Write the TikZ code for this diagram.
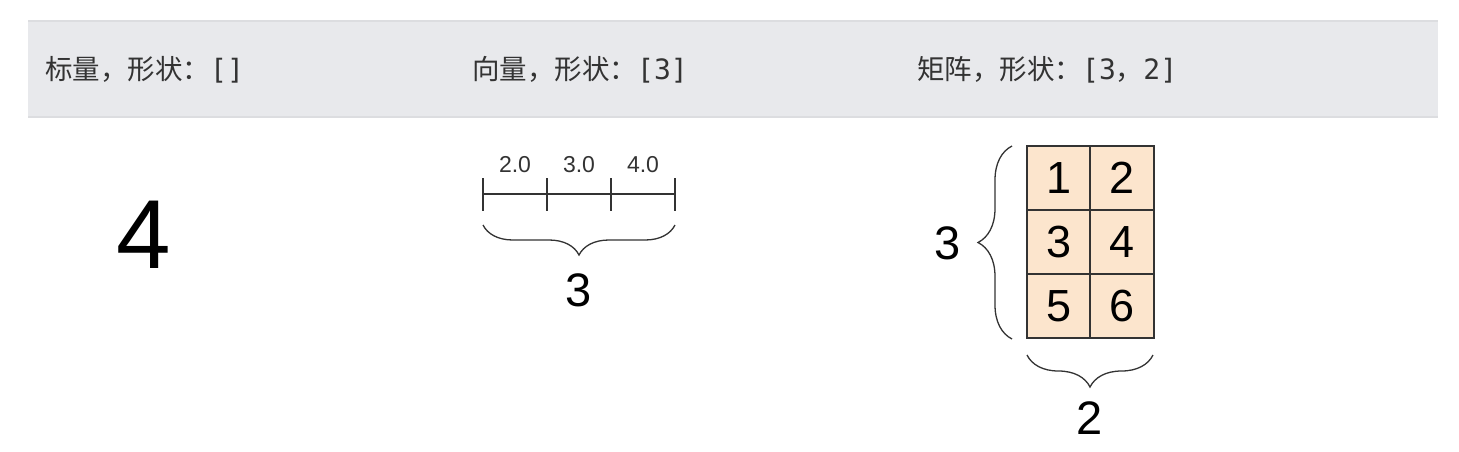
\documentclass[tikz,border=0pt]{standalone}
\usepackage{fontspec}
\setmainfont{Liberation Sans}
\newfontfamily\cjkfont{Noto Sans CJK SC}
\newfontfamily\codefont{DejaVu Sans Mono}
\usepackage{xcolor}
\usetikzlibrary{decorations.pathreplacing}
\definecolor{hdrbg}{HTML}{E8E9EC}
\definecolor{hdrline}{HTML}{DCDDE0}
\definecolor{cellfill}{HTML}{FCE5CD}
\definecolor{ink}{HTML}{333333}

\newcommand{\shp}[1]{{\codefont\fontsize{28}{28}\selectfont #1}}

\tikzset{
  hdr/.style={anchor=west, inner sep=0pt, text=ink, font=\cjkfont\fontsize{27.5}{27.5}\selectfont},
  cell/.style={draw=ink, line width=1.5pt, fill=cellfill, minimum width=64pt, minimum height=64pt, inner sep=0pt, font=\fontsize{45}{45}\selectfont},
  brc/.style={decorate, decoration={brace, amplitude=#1}, draw=ink, line width=1.3pt},
  lbl/.style={inner sep=0pt, font=\fontsize{#1}{#1}\selectfont}
}

\begin{document}
\begin{tikzpicture}[x=1pt,y=-1pt]
\useasboundingbox (0,0) rectangle (1459,451);

% header band
\fill [hdrbg] (28,20) rectangle (1438,117);
\draw [hdrline, line width=2pt] (28,21) -- (1438,21);
\draw [hdrline, line width=2pt] (28,117) -- (1438,117);
\node [hdr] (hscalar) at (45,70) {标量，形状：\shp{[]}};
\node [hdr] (hvector) at (472,70) {向量，形状：\shp{[3]}};
\node [hdr] (hmatrix) at (917,70) {矩阵，形状：\shp{[3}，\shp{2]}};

% scalar
\node [lbl=98] (scalar) at (144,235) {4};

% vector
\coordinate (t0) at (483,194);
\coordinate (t1) at (547,194);
\coordinate (t2) at (611,194);
\coordinate (t3) at (675,194);
\draw [ink, line width=1.5pt] (t0) -- (t3);
\draw [ink, line width=1.5pt] (t0) ++(0,-16) -- ++(0,33);
\draw [ink, line width=1.5pt] (t1) ++(0,-16) -- ++(0,33);
\draw [ink, line width=1.5pt] (t2) ++(0,-16) -- ++(0,33);
\draw [ink, line width=1.5pt] (t3) ++(0,-16) -- ++(0,33);
\node [lbl=23, text=ink] (v1) at (515,165) {2.0};
\node [lbl=23, text=ink] (v2) at (579,165) {3.0};
\node [lbl=23, text=ink] (v3) at (643,165) {4.0};
\coordinate (vbl) at (483,225);
\coordinate (vbr) at (675,225);
\draw [brc=30pt] (vbr) -- (vbl);
\node [lbl=47] (vlen) at (579,290) {3};

% matrix
\node [cell] (m11) at (1059,178) {1};
\node [cell] (m12) at (1122,178) {2};
\node [cell] (m21) at (1059,242) {3};
\node [cell] (m22) at (1122,242) {4};
\node [cell] (m31) at (1059,306) {5};
\node [cell] (m32) at (1122,306) {6};
\coordinate (lbt) at (1012,146);
\coordinate (lbb) at (1012,339);
\draw [brc=34pt] (lbb) -- (lbt);
\node [lbl=47] (mrows) at (948,243) {3};
\coordinate (bbl) at (1027,355);
\coordinate (bbr) at (1153,355);
\draw [brc=32pt] (bbr) -- (bbl);
\node [lbl=47] (mcols) at (1090,418) {2};

\end{tikzpicture}
\end{document}
